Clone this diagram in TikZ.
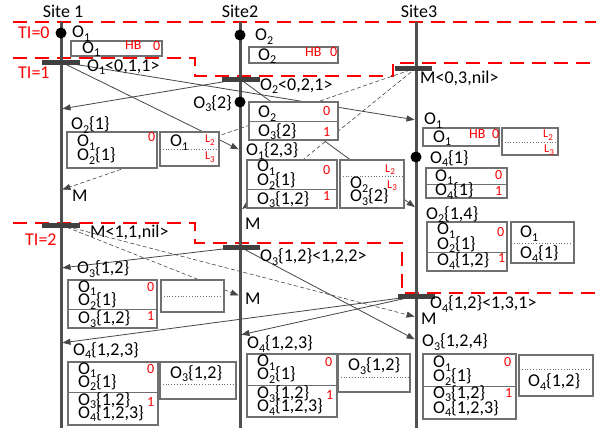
\documentclass[tikz,border=0pt]{standalone}
\usepackage{fontspec}
\setmainfont{Carlito}
\usetikzlibrary{arrows.meta}
\definecolor{tired}{RGB}{250,0,0}
\definecolor{sitegray}{RGB}{80,80,80}
\definecolor{bargray}{RGB}{64,64,64}
\definecolor{msggray}{RGB}{70,70,70}
\definecolor{boxgray}{RGB}{112,112,112}
% lowered index, and object / link names with an index
\newcommand\lo[1]{\raisebox{-0.22em}{\fontsize{12}{12}\selectfont #1}}
\newcommand\Ob[1]{O\lo{#1}}
\newcommand\Lk[1]{L\raisebox{-0.22em}{\fontsize{9}{9}\selectfont #1}}
\tikzset{
  site/.style={draw=sitegray, line width=3pt},
  evbar/.style={draw=bargray, line width=5pt},
  evdot/.style={circle, fill=black, inner sep=0pt, minimum size=11pt},
  tiline/.style={draw=tired, line width=2.6pt, dash pattern=on 14pt off 8pt},
  msg/.style={draw=msggray, line width=0.8pt, -{Triangle[length=8pt,width=6pt]}, shorten >=1.5pt},
  mmsg/.style={msg, dash pattern=on 4pt off 2.5pt, line width=0.6pt},
  pbox/.style={draw=boxgray, line width=1.1pt, fill=white},
  psep/.style={draw=boxgray, line width=0.9pt},
  pdot/.style={draw=boxgray, line width=0.8pt, dotted},
  txt/.style={inner sep=0pt, anchor=base west, font=\fontsize{18}{18}\selectfont},
  ttl/.style={txt, anchor=base},
  rtxt/.style={inner sep=0pt, anchor=base west, text=tired, font=\fontsize{14}{14}\selectfont},
  rsm/.style={inner sep=0pt, anchor=base west, text=tired, font=\fontsize{12}{12}\selectfont},
  tilbl/.style={inner sep=0pt, anchor=base west, text=tired, font=\fontsize{18}{18}\selectfont},
}
\begin{document}
\begin{tikzpicture}[x=1pt,y=-1pt]
\useasboundingbox[fill=white] (0,0) rectangle (596,428);

% interval boundaries
\draw[tiline] (13,22) -- (596,22);
\draw[tiline] (13,58) -- (195,58) -- (195,76) -- (393,76) -- (393,63) -- (596,63);
\draw[tiline] (13,223) -- (195,223) -- (195,243) -- (402,243) -- (402,293) -- (596,293);

% site time lines
\draw[site] (61,22) -- (61,428);
\draw[site] (240,22) -- (240,428);
\draw[site] (416,22) -- (416,428);

% broadcast points
\coordinate (p1a) at (61,62);
\coordinate (p2a) at (240,79);
\coordinate (p3a) at (416,68);
\coordinate (p1b) at (61,225);
\coordinate (p2b) at (240,247);
\coordinate (p3b) at (416,296);
% receive points
\coordinate (r13a) at (416,120);
\coordinate (r12a) at (240,150);
\coordinate (r21a) at (61,109);
\coordinate (r23a) at (416,208);
\coordinate (r31a) at (61,190);
\coordinate (r32a) at (241,210);
\coordinate (r12b) at (240,296);
\coordinate (r13b) at (416,317);
\coordinate (r21b) at (61,268);
\coordinate (r23b) at (416,340);
\coordinate (r31b) at (61,343);
\coordinate (r32b) at (240,335);

% messages
\draw[msg] (p1a) -- (r13a);
\draw[msg] (p1a) -- (r12a);
\draw[msg] (p2a) -- (r21a);
\draw[msg] (p2a) -- (r23a);
\draw[mmsg] (p3a) -- (r31a);
\draw[mmsg] (p3a) -- (r32a);
\draw[mmsg] (p1b) -- (r12b);
\draw[mmsg] (p1b) -- (r13b);
\draw[msg] (p2b) -- (r21b);
\draw[msg] (p2b) -- (r23b);
\draw[msg] (p3b) -- (r31b);
\draw[msg] (p3b) -- (r32b);

% ---- boxes ----
% heartbeat boxes
\draw[pbox] (71,41) rectangle (162,56);
\draw[pbox] (249,47) rectangle (338,63);
\draw[pbox] (423,128) rectangle (499,146);
\draw[pbox] (502,128) rectangle (558,155);
\draw[pdot] (502,142) -- (558,142);
% site 1, interval 1
\draw[pbox] (67,132) rectangle (157,168);
\draw[pbox] (160,132) rectangle (219,166);
\draw[pdot] (160,149) -- (219,149);
% site 2, interval 1
\draw[pbox] (249,102) rectangle (338,140);
\draw[psep] (249,121) -- (338,121);
\draw[pbox] (247,160) rectangle (337,208);
\draw[psep] (247,189) -- (337,189);
\draw[pbox] (340,160) rectangle (404,208);
\draw[pdot] (340,176) -- (404,176);
% site 3, interval 1
\draw[pbox] (426,168) rectangle (507,198);
\draw[psep] (426,184) -- (507,184);
\draw[pbox] (427,222) rectangle (507,271);
\draw[psep] (427,252) -- (507,252);
\draw[pbox] (511,222) rectangle (574,263);
\draw[pdot] (511,243) -- (574,243);
% site 1, interval 2
\draw[pbox] (68,280) rectangle (157,328);
\draw[psep] (68,309) -- (157,309);
\draw[pbox] (161,280) rectangle (224,312);
\draw[pdot] (161,296) -- (224,296);
\draw[pbox] (68,362) rectangle (158,425);
\draw[psep] (68,392) -- (158,392);
\draw[pbox] (160,362) rectangle (236,399);
\draw[pdot] (160,384) -- (236,384);
% site 2, interval 2
\draw[pbox] (247,354) rectangle (337,417);
\draw[psep] (247,385) -- (337,385);
\draw[pbox] (338,354) rectangle (410,392);
\draw[pdot] (338,377) -- (410,377);
% site 3, interval 2
\draw[pbox] (423,354) rectangle (516,419);
\draw[psep] (423,386) -- (516,386);
\draw[pbox] (519,355) rectangle (593,396);
\draw[pdot] (519,369) -- (593,369);

% event bars and update points
\draw[evbar] (42,62) -- (80,62);
\draw[evbar] (222,79) -- (260,79);
\draw[evbar] (395,68) -- (432,68);
\draw[evbar] (42,225) -- (80,225);
\draw[evbar] (223,247) -- (260,247);
\draw[evbar] (398,296) -- (435,296);
\node[evdot] (d1) at (61,33) {};
\node[evdot] (d2) at (240,35) {};
\node[evdot] (d3) at (240,102) {};
\node[evdot] (d4) at (416,157) {};

% ---- labels ----
\node[ttl] (site1) at (63,18) {Site 1};
\node[ttl] (site2) at (240,18) {Site2};
\node[ttl] (site3) at (419,18) {Site3};
\node[tilbl] (ti0) at (18,38) {TI=0};
\node[tilbl] (ti1) at (18,78) {TI=1};
\node[tilbl] (ti2) at (25,245) {TI=2};

\node[txt] (e1) at (72,37.5) {\Ob1};
\node[txt] (e2) at (255,40.5) {\Ob2};
\node[txt,anchor=base east] (e3) at (232,108) {\Ob3\{2\}};
\node[txt] (e4) at (430,163) {\Ob4\{1\}};

\node[txt] (m1a) at (87,71) {\Ob1<0,1,1>};
\node[txt] (m2a) at (260,90) {\Ob2<0,2,1>};
\node[txt] (m3a) at (420,83.5) {M<0,3,nil>};
\node[txt] (m1b) at (90,237.5) {M<1,1,nil>};
\node[txt] (m2b) at (260,261.5) {\Ob3\{1,2\}<1,2,2>};
\node[txt] (m3b) at (430,308.5) {\Ob4\{1,2\}<1,3,1>};

\node[txt] (a21a) at (71,129.3) {\Ob2\{1\}};
\node[txt] (a31a) at (72,201) {M};
\node[txt] (a21b) at (77,273.3) {\Ob3\{1,2\}};
\node[txt] (a31b) at (73,355) {\Ob4\{1,2,3\}};
\node[txt] (a12a) at (246,155.7) {\Ob1\{2,3\}};
\node[txt] (a32a) at (245,229.3) {M};
\node[txt] (a12b) at (245,304.3) {M};
\node[txt] (a32b) at (247,348.3) {\Ob4\{1,2,3\}};
\node[txt] (a13a) at (424,124.3) {\Ob1};
\node[txt] (a23a) at (426,219) {\Ob2\{1,4\}};
\node[txt] (a13b) at (421,324.3) {M};
\node[txt] (a23b) at (422,346.7) {\Ob3\{1,2,4\}};

% heartbeat box contents
\node[txt] (h1o) at (82,53) {\Ob1};
\node[rtxt] (h1h) at (125,49.5) {HB};
\node[rtxt] (h1z) at (153,50) {0};
\node[txt] (h2o) at (258,60) {\Ob2};
\node[rtxt] (h2h) at (305,56.5) {HB};
\node[rtxt] (h2z) at (330,56.5) {0};
\node[txt] (h3o) at (433,142) {\Ob1};
\node[rtxt] (h3h) at (469,138.5) {HB};
\node[rtxt] (h3z) at (492,138.5) {0};
\node[rsm] (h3l2) at (543,137.5) {\Lk2};
\node[rsm] (h3l3) at (544,152.5) {\Lk3};

% site 1, interval 1
\node[txt] (s1a1) at (77,146.5) {\Ob1};
\node[txt] (s1a2) at (77,160.5) {\Ob2\{1\}};
\node[rtxt] (s1az) at (148,141.5) {0};
\node[txt] (s1ao) at (170,146.5) {\Ob1};
\node[rsm] (s1al2) at (205,142.5) {\Lk2};
\node[rsm] (s1al3) at (205,159.5) {\Lk3};

% site 2, interval 1
\node[txt] (s2a1) at (258,117.5) {\Ob2};
\node[rtxt] (s2az) at (323,115) {0};
\node[txt] (s2a2) at (258,136) {\Ob3\{2\}};
\node[rtxt] (s2ao) at (323,136) {1};
\node[txt] (s2b1) at (257,171.5) {\Ob1};
\node[txt] (s2b2) at (257,185.5) {\Ob2\{1\}};
\node[rtxt] (s2bz) at (323,174) {0};
\node[txt] (s2b3) at (257,204) {\Ob3\{1,2\}};
\node[rtxt] (s2bo) at (323,200.5) {1};
\node[rsm] (s2l2) at (385,172) {\Lk2};
\node[rsm] (s2l3) at (387,188) {\Lk3};
\node[txt] (s2c1) at (350,188.5) {\Ob2};
\node[txt] (s2c2) at (350,201.5) {\Ob3\{2\}};

% site 3, interval 1
\node[txt] (s3a1) at (435,181) {\Ob1};
\node[rtxt] (s3az) at (495,179) {0};
\node[txt] (s3a2) at (435,195.5) {\Ob4\{1\}};
\node[rtxt] (s3ao) at (495,195) {1};
\node[txt] (s3b1) at (437,234.5) {\Ob1};
\node[txt] (s3b2) at (437,249) {\Ob2\{1\}};
\node[rtxt] (s3bz) at (497,236) {0};
\node[txt] (s3b3) at (437,265.5) {\Ob4\{1,2\}};
\node[rtxt] (s3bo) at (498,262.5) {1};
\node[txt] (s3c1) at (520,237.5) {\Ob1};
\node[txt] (s3c2) at (520,258.5) {\Ob4\{1\}};

% site 1, interval 2
\node[txt] (t1a1) at (78,292) {\Ob1};
\node[txt] (t1a2) at (78,305.5) {\Ob2\{1\}};
\node[rtxt] (t1az) at (147,291) {0};
\node[txt] (t1a3) at (78,323.5) {\Ob3\{1,2\}};
\node[rtxt] (t1ao) at (147,320) {1};
\node[txt] (t1b1) at (78,374) {\Ob1};
\node[txt] (t1b2) at (78,387) {\Ob2\{1\}};
\node[rtxt] (t1bz) at (147,373) {0};
\node[txt] (t1b3) at (78,405) {\Ob3\{1,2\}};
\node[txt] (t1b4) at (78,418) {\Ob4\{1,2,3\}};
\node[rtxt] (t1bo) at (147,406) {1};
\node[txt] (t1c1) at (170,378) {\Ob3\{1,2\}};

% site 2, interval 2
\node[txt] (t2a1) at (257,366.5) {\Ob1};
\node[txt] (t2a2) at (257,379.5) {\Ob2\{1\}};
\node[rtxt] (t2az) at (325,366) {0};
\node[txt] (t2a3) at (257,398.5) {\Ob3\{1,2\}};
\node[txt] (t2a4) at (257,411.5) {\Ob4\{1,2,3\}};
\node[rtxt] (t2ao) at (326,399) {1};
\node[txt] (t2c1) at (348,370.5) {\Ob3\{1,2\}};

% site 3, interval 2
\node[txt] (t3a1) at (433,367.5) {\Ob1};
\node[txt] (t3a2) at (433,381.5) {\Ob2\{1\}};
\node[rtxt] (t3az) at (504,366.5) {0};
\node[txt] (t3a3) at (433,398) {\Ob3\{1,2\}};
\node[txt] (t3a4) at (433,413) {\Ob4\{1,2,3\}};
\node[rtxt] (t3ao) at (505,397.5) {1};
\node[txt] (t3c1) at (528,386.5) {\Ob4\{1,2\}};
\end{tikzpicture}
\end{document}
